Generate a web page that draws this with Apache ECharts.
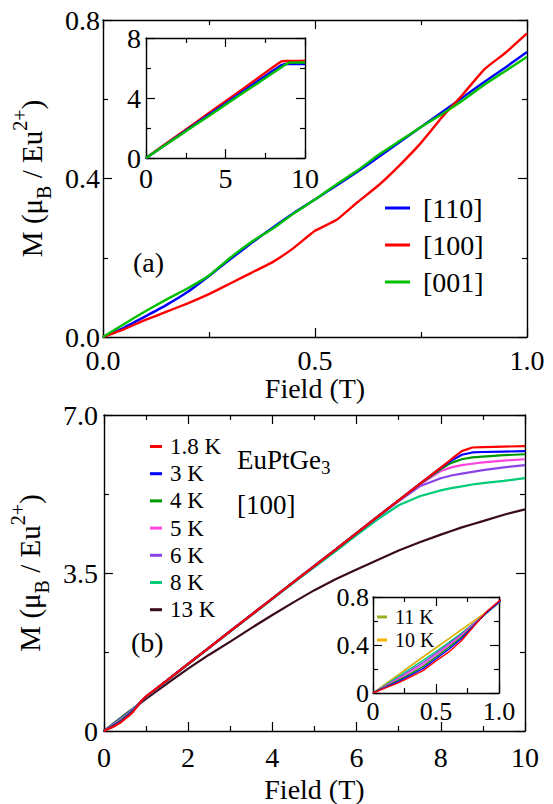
<!DOCTYPE html>
<html>
<head>
<meta charset="utf-8">
<script src="https://cdn.jsdelivr.net/npm/echarts@6/dist/echarts.min.js"></script>
<style>html,body{margin:0;padding:0;background:#fff;}#chart{width:553px;height:804px;}</style>
</head>
<body>
<div id="chart"></div>
<script>
// ---------- Panel (a): low-field magnetization at 1.8 K ----------
const aField = [0,0.05,0.1,0.15,0.2,0.25,0.3,0.35,0.4,0.45,0.5,0.55,0.6,0.65,0.7,0.75,0.8,0.85,0.9,0.95,1.0];
const a110 = [0,0.024,0.052,0.081,0.114,0.154,0.196,0.237,0.276,0.313,0.347,0.382,0.417,0.454,0.492,0.530,0.568,0.606,0.644,0.681,0.719];
const a100 = [0,0.020,0.043,0.064,0.085,0.108,0.135,0.162,0.189,0.225,0.268,0.295,0.340,0.383,0.434,0.490,0.555,0.614,0.676,0.718,0.766];
const a001 = [0,0.033,0.065,0.095,0.123,0.155,0.200,0.240,0.273,0.312,0.347,0.385,0.420,0.460,0.495,0.530,0.563,0.598,0.637,0.672,0.707];
const aNames = ['[110]','[100]','[001]'];

// Inset of (a): full field range
const aiField = [0,1,2,3,4,5,6,7,8,8.5,8.75,9,9.5,10];
const ai100 = [0,0.77,1.52,2.27,3.03,3.78,4.54,5.30,6.06,6.44,6.47,6.47,6.47,6.48];
const ai110 = [0,0.72,1.45,2.18,2.91,3.64,4.37,5.10,5.83,6.19,6.27,6.27,6.27,6.27];
const ai001 = [0,0.71,1.42,2.13,2.84,3.55,4.26,4.97,5.68,6.04,6.21,6.36,6.37,6.37];

// ---------- Panel (b): EuPtGe3 [100] at various temperatures ----------
const bField = [0,0.1,0.2,0.3,0.4,0.5,0.6,0.7,0.8,0.9,1.0,1.5,2,2.5,3,3.5,4,4.5,5,5.5,6,6.5,7,7.5,8,8.25,8.5,8.75,9,9.5,10];
const bT1_8 = [0,0.043,0.085,0.135,0.189,0.268,0.340,0.434,0.555,0.676,0.766,1.12,1.485,1.848,2.21,2.573,2.935,3.298,3.66,4.02,4.385,4.75,5.11,5.475,5.835,6.02,6.20,6.28,6.29,6.30,6.31];
const bT3   = [0,0.047,0.095,0.148,0.205,0.285,0.362,0.450,0.560,0.670,0.760,1.12,1.485,1.848,2.21,2.573,2.935,3.298,3.66,4.02,4.385,4.75,5.11,5.475,5.83,5.99,6.12,6.17,6.18,6.19,6.20];
const bT4   = [0,0.052,0.105,0.162,0.222,0.300,0.378,0.463,0.565,0.668,0.758,1.12,1.485,1.848,2.21,2.573,2.935,3.298,3.66,4.02,4.385,4.75,5.11,5.47,5.80,5.94,6.02,6.06,6.08,6.11,6.13];
const bT5   = [0,0.057,0.115,0.176,0.238,0.315,0.393,0.476,0.572,0.667,0.757,1.12,1.485,1.848,2.21,2.573,2.935,3.298,3.66,4.02,4.385,4.75,5.11,5.46,5.76,5.84,5.89,5.92,5.95,5.99,6.02];
const bT6   = [0,0.062,0.125,0.190,0.255,0.330,0.408,0.488,0.578,0.666,0.755,1.12,1.485,1.848,2.21,2.573,2.935,3.298,3.66,4.02,4.38,4.74,5.09,5.42,5.60,5.66,5.70,5.74,5.78,5.84,5.89];
const bT8   = [0,0.068,0.136,0.205,0.274,0.345,0.420,0.497,0.580,0.663,0.752,1.11,1.475,1.84,2.20,2.56,2.92,3.28,3.63,3.98,4.34,4.69,5.00,5.20,5.33,5.38,5.42,5.46,5.49,5.54,5.60];
const bT13  = [0,0.073,0.146,0.218,0.290,0.362,0.433,0.503,0.573,0.642,0.710,1.05,1.38,1.69,1.98,2.28,2.57,2.85,3.12,3.36,3.58,3.79,4.00,4.18,4.35,4.43,4.51,4.58,4.65,4.79,4.91];
// inset-only temperatures (0 - 1 T)
const biField = [0,0.1,0.2,0.3,0.4,0.5,0.6,0.7,0.8,0.9,1.0];
const bT11 = [0,0.076,0.152,0.228,0.303,0.378,0.452,0.526,0.600,0.674,0.748];
const bT10 = [0,0.075,0.150,0.225,0.300,0.375,0.450,0.525,0.600,0.675,0.750];
const bNames = ['1.8 K','3 K','4 K','5 K','6 K','8 K','13 K'];
const biNames = ['11 K','10 K'];

// tick labels
const aXLabels = {0:'0.0',0.5:'0.5',1:'1.0'};
const aYLabels = {0:'0.0',0.4:'0.4',0.8:'0.8'};
const bYLabels = {0:'0',3.5:'3.5',7:'7.0'};
const biXLabels = {0:'0',0.5:'0.5',1:'1.0'};
const biYLabels = {0:'0',0.4:'0.4',0.8:'0.8'};

// ---------- styling ----------
const FONT = "Liberation Serif";
const colA = {'[110]':'#0000ff','[100]':'#ff0000','[001]':'#00c000'};
const colB = {'1.8 K':'#ff0000','3 K':'#0000ff','4 K':'#009900','5 K':'#ff44dd','6 K':'#8a44e6','8 K':'#00cc77','13 K':'#3a0a1c','11 K':'#9aaf2a','10 K':'#f2b200'};

function zip(xs, ys){ return xs.map((x,i)=>[x, ys[i]]); }
function fmtFrom(map){ return v => (map[v] !== undefined ? map[v] : String(v)); }

function mkAxis(grid, min, max, interval, pos, labelOpt, extra){
  const a = {
    type:'value', gridIndex:grid, min:min, max:max, interval:interval, position:pos,
    axisLine:{show:true, onZero:false, lineStyle:{color:'#000', width:1.4}},
    axisTick:{show:true, inside:true, length:9, lineStyle:{color:'#000', width:1.2}},
    minorTick:{show:true, splitNumber:2, length:5, lineStyle:{color:'#000', width:1.2}},
    splitLine:{show:false}, minorSplitLine:{show:false},
    axisLabel: labelOpt ? Object.assign({show:true, color:'#000', fontFamily:FONT}, labelOpt) : {show:false}
  };
  return Object.assign(a, extra || {});
}

const yName = '{n|M (μ}{s|B}{n| / Eu}{p|2+}{n|)}';
const yNameStyle = {
  fontFamily:FONT, color:'#000',
  rich:{
    n:{fontFamily:FONT, fontSize:29, color:'#000', lineHeight:44},
    s:{fontFamily:FONT, fontSize:20, color:'#000', lineHeight:16, verticalAlign:'bottom'},
    p:{fontFamily:FONT, fontSize:20, color:'#000', lineHeight:16, verticalAlign:'top'}
  }
};
const xNameStyle = {fontFamily:FONT, fontSize:28, color:'#000'};

const grids = [
  {left:103, top:20, width:424, height:317},   // a main
  {left:146, top:38, width:159, height:120},   // a inset
  {left:102, top:415, width:423, height:316},  // b main
  {left:373, top:597, width:126, height:96}    // b inset
].map(g => Object.assign({containLabel:false, show:false}, g));

const xAxes = [
  mkAxis(0,0,1,0.5,'bottom',{fontSize:28, lineHeight:20, margin:13, formatter:fmtFrom(aXLabels)},
         {name:'Field (T)', nameLocation:'middle', nameGap:31, nameTextStyle:xNameStyle}),
  mkAxis(0,0,1,0.5,'top',null),
  mkAxis(1,0,10,5,'bottom',{fontSize:28, margin:6}),
  mkAxis(1,0,10,5,'top',null),
  mkAxis(2,0,10,2,'bottom',{fontSize:28, margin:12},
         {name:'Field (T)', nameLocation:'middle', nameGap:44, nameTextStyle:xNameStyle}),
  mkAxis(2,0,10,2,'top',null),
  mkAxis(3,0,1,0.5,'bottom',{fontSize:26, margin:5, formatter:fmtFrom(biXLabels)}),
  mkAxis(3,0,1,0.5,'top',null)
];
const yAxes = [
  mkAxis(0,0,0.8,0.4,'left',{fontSize:28, lineHeight:20, margin:3, formatter:fmtFrom(aYLabels)},
         {name:yName, nameLocation:'middle', nameGap:46, nameRotate:90, nameTextStyle:yNameStyle}),
  mkAxis(0,0,0.8,0.4,'right',null),
  mkAxis(1,0,8,4,'left',{fontSize:28, margin:5}),
  mkAxis(1,0,8,4,'right',null),
  mkAxis(2,0,7,3.5,'left',{fontSize:28, margin:6, formatter:fmtFrom(bYLabels)},
         {name:yName, nameLocation:'middle', nameGap:46, nameRotate:90, nameTextStyle:yNameStyle}),
  mkAxis(2,0,7,3.5,'right',null),
  mkAxis(3,0,0.8,0.4,'left',{fontSize:26, margin:4, formatter:fmtFrom(biYLabels)}),
  mkAxis(3,0,0.8,0.4,'right',null)
];

function line(name, data, grid, color, width, extra){
  return Object.assign({
    name:name, type:'line', xAxisIndex:grid*2, yAxisIndex:grid*2,
    data:data, showSymbol:false, symbol:'none', smooth:false,
    lineStyle:{color:color, width:width}, itemStyle:{color:color},
    emphasis:{disabled:true}, animation:false, clip:true
  }, extra || {});
}

const series = [];
series.push(line('[110]', zip(aField,a110), 0, colA['[110]'], 2.4, {smooth:0.15}));
series.push(line('[100]', zip(aField,a100), 0, colA['[100]'], 2.4, {smooth:0.15}));
series.push(line('[001]', zip(aField,a001), 0, colA['[001]'], 2.4, {smooth:0.15}));
series.push(line('i100', zip(aiField,ai100), 1, colA['[100]'], 2.4));
series.push(line('i110', zip(aiField,ai110), 1, colA['[110]'], 2.4));
series.push(line('i001', zip(aiField,ai001), 1, colA['[001]'], 2.4));
const bData = [bT1_8,bT3,bT4,bT5,bT6,bT8,bT13];
for (let i = bData.length-1; i >= 0; i--) {
  series.push(line(bNames[i], zip(bField,bData[i]), 2, colB[bNames[i]], 2.2));
}
series.push(line('11 K', zip(biField,bT11), 3, colB['11 K'], 1.4));
series.push(line('10 K', zip(biField,bT10), 3, colB['10 K'], 1.4));
for (let i = bData.length-2; i >= 0; i--) {
  series.push(line('in'+bNames[i], zip(bField,bData[i]), 3, colB[bNames[i]], 1.4));
}

const legendCommon = {orient:'vertical', icon:'rect', selectedMode:false, padding:0};

const option = {
  backgroundColor:'#fff',
  animation:false,
  textStyle:{fontFamily:FONT},
  grid: grids,
  xAxis: xAxes,
  yAxis: yAxes,
  legend: [
    Object.assign({}, legendCommon, {
      data:aNames, left:385, top:194, itemWidth:25, itemHeight:3, itemGap:9,
      textStyle:{fontFamily:FONT, color:'#000', fontSize:28, lineHeight:26, padding:[0,0,0,8]}
    }),
    Object.assign({}, legendCommon, {
      data:bNames, left:150, top:435, itemWidth:12, itemHeight:3, itemGap:4.2,
      textStyle:{fontFamily:FONT, color:'#000', fontSize:23, lineHeight:22, padding:[0,0,0,3]}
    }),
    Object.assign({}, legendCommon, {
      data:biNames, left:377, top:607, itemWidth:10, itemHeight:3, itemGap:3,
      textStyle:{fontFamily:FONT, color:'#000', fontSize:20, lineHeight:20, padding:[0,0,0,3]}
    })
  ],
  graphic: [
    {type:'text', left:133, top:248, style:{text:'(a)', fontFamily:FONT, fontSize:28, fill:'#000'}},
    {type:'text', left:131, top:628, style:{text:'(b)', fontFamily:FONT, fontSize:28, fill:'#000'}},
    {type:'text', left:237, top:446, style:{text:'{n|EuPtGe}{s|3}', fill:'#000',
      rich:{n:{fontFamily:FONT, fontSize:27, lineHeight:34, fill:'#000'}, s:{fontFamily:FONT, fontSize:19, lineHeight:14, verticalAlign:'bottom', fill:'#000'}}}},
    {type:'text', left:237, top:491, style:{text:'[100]', fontFamily:FONT, fontSize:27, fill:'#000'}}
  ],
  series: series
};

const chart = echarts.init(document.getElementById('chart'), null, {renderer:'svg'});
chart.setOption(option);
</script>
</body>
</html>
